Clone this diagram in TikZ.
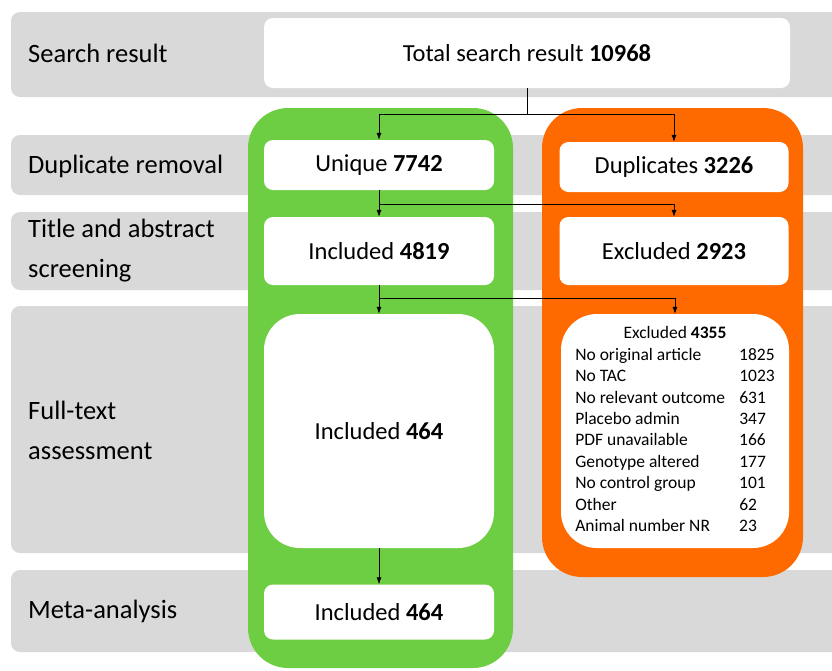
\documentclass[tikz,border=0pt]{standalone}
\usepackage{fontspec}
\setmainfont{Carlito}
\usetikzlibrary{arrows.meta}
\definecolor{bandgray}{HTML}{D9D9D9}
\definecolor{incgreen}{HTML}{6DCE44}
\definecolor{excorange}{HTML}{FF6A00}

\begin{document}
\begin{tikzpicture}[x=1pt, y=-1pt
  , band/.style={fill=bandgray, rounded corners=9pt}
  , stage/.style={anchor=west, align=left, inner sep=0pt, font=\fontsize{26.5}{40}\selectfont}
  , wbox/.style={fill=white, rounded corners=9pt, inner sep=0pt, font=\fontsize{24.5}{28}\selectfont}
  , bigbox/.style={wbox, rounded corners=36pt}
  , flow/.style={draw, line width=0.7pt, ->, >={Latex[length=7pt,width=5pt]}}
]
  \useasboundingbox (0,0) rectangle (832,670);
  % bands
  \fill[band] (11,12) rectangle (860,97);
  \fill[band] (11,135) rectangle (860,195);
  \fill[band] (11,212) rectangle (860,290);
  \fill[band] (11,306) rectangle (860,553);
  \fill[band] (11,570) rectangle (860,652);
  % containers
  \fill[incgreen, rounded corners=40pt] (248,108) rectangle (513,668);
  \fill[excorange, rounded corners=40pt] (542,108) rectangle (803,577);
  % stage labels
  \node[stage] (lsearch) at (28,53) {Search result};
  \node[stage] (ldup) at (28,166) {Duplicate removal};
  \node[stage] (ltitle) at (28,251) {Title and abstract\\screening};
  \node[stage] (lfull) at (28,430) {Full-text\\assessment};
  \node[stage] (lmeta) at (28,611) {Meta-analysis};
  % boxes
  \node[wbox, minimum width=526pt, minimum height=70pt] (tot) at (527,53) {Total search result \textbf{10968}};
  \node[wbox, minimum width=230pt, minimum height=50pt] (uniq) at (379,165) {Unique \textbf{7742}};
  \node[wbox, minimum width=229pt, minimum height=50pt] (dup) at (674,167) {Duplicates \textbf{3226}};
  \node[wbox, minimum width=230pt, minimum height=68pt] (inca) at (379,251) {Included \textbf{4819}};
  \node[wbox, minimum width=229pt, minimum height=68pt] (exca) at (674,251) {Excluded \textbf{2923}};
  \node[bigbox, minimum width=230pt, minimum height=234pt] (incb) at (379,431) {Included \textbf{464}};
  \node[bigbox, minimum width=228pt, minimum height=234pt] (excb) at (675,431) {%
    \fontsize{17.5}{21.4}\selectfont
    \begin{tabular}{@{}p{164pt}@{}l@{}}
      \multicolumn{2}{c}{Excluded \textbf{4355}}\\
      No original article & 1825\\
      No TAC & 1023\\
      No relevant outcome & 631\\
      Placebo admin & 347\\
      PDF unavailable & 166\\
      Genotype altered & 177\\
      No control group & 101\\
      Other & 62\\
      Animal number NR & 23\\
    \end{tabular}};
  \node[wbox, minimum width=230pt, minimum height=55pt] (incc) at (379,612) {Included \textbf{464}};
  % connectors
  \draw[line width=0.7pt] (tot.south) -- (tot.south |- 0,114) coordinate (j1);
  \draw[flow] (j1) -| (uniq.north);
  \draw[flow] (j1) -| (dup.north);
  \draw[line width=0.7pt] (uniq.south) -- (uniq.south |- 0,204) coordinate (j2);
  \draw[flow] (j2) -- (inca.north);
  \draw[flow] (j2) -| (exca.north);
  \draw[line width=0.7pt] (inca.south) -- (inca.south |- 0,298) coordinate (j3);
  \draw[flow] (j3) -- (incb.north);
  \draw[flow] (j3) -| (excb.north);
  \draw[flow] (incb.south) -- (incc.north);
\end{tikzpicture}
\end{document}
